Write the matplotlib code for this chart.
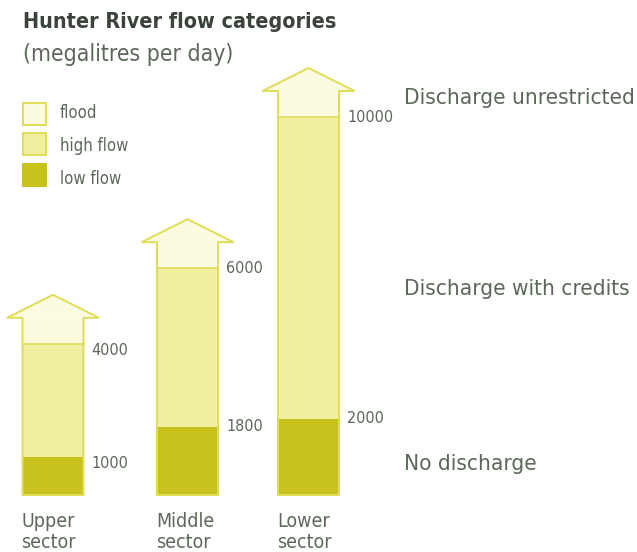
import matplotlib
matplotlib.use("Agg")
import os
import matplotlib.pyplot as plt
from matplotlib.patches import Rectangle, Polygon
from matplotlib import font_manager
from matplotlib.font_manager import FontProperties

sectors = ["Upper\nsector", "Middle\nsector", "Lower\nsector"]
low_flow = [1000, 1800, 2000]
high_flow = [4000, 6000, 10000]
low_labels = ["1000", "1800", "2000"]
high_labels = ["4000", "6000", "10000"]
legend_labels = ["flood", "high flow", "low flow"]
zone_labels = ["Discharge unrestricted", "Discharge with credits", "No discharge"]
zone_levels = [10500, 5450, 820]

files = [f.fname for f in font_manager.fontManager.ttflist]
def pick(cands):
    for c in cands:
        for f in files:
            if os.path.basename(f).lower() == c.lower():
                return f
    return None
reg_file = pick(["LiberationSansNarrow-Regular.ttf", "DejaVuSansCondensed.ttf"])
bold_file = pick(["LiberationSansNarrow-Bold.ttf", "DejaVuSansCondensed-Bold.ttf"])
def fp(size, bold=False):
    f = bold_file if bold else reg_file
    if f:
        return FontProperties(fname=f, size=size)
    return FontProperties(family="DejaVu Sans", size=size,
                          weight="bold" if bold else "normal", stretch="condensed")

C_LOW = "#c8c31c"
C_HIGH = "#f0efa0"
C_FLOOD = "#fcfbe0"
C_EDGE = "#e0dd58"
TXT = "#5b6a58"
TITLE = "#3a443a"

W, H = 637, 552
fig = plt.figure(figsize=(W / 100, H / 100), dpi=100)
ax = fig.add_axes([0, 0, 1, 1])
px = 1000 / 37.8  # value units per pixel
base_px = 495
ax.set_xlim(0, W)
ax.set_ylim(-(H - base_px) * px, base_px * px)
ax.axis("off")

centers = [53, 187.5, 308.5]
bw = 61
aw = 92
flood_ext = 26 * px
head_h = 23 * px
lab_off_high = [-7 * px, 0, 0]
lab_off_low = [-6 * px, 0, 1 * px]

for i, c in enumerate(centers):
    x0 = c - bw / 2
    ax.add_patch(Rectangle((x0, 0), bw, low_flow[i], fc=C_LOW, ec="none", zorder=2))
    ax.add_patch(Rectangle((x0, low_flow[i]), bw, high_flow[i] - low_flow[i],
                           fc=C_HIGH, ec="none", zorder=2))
    top = high_flow[i] + flood_ext
    ax.add_patch(Rectangle((x0, high_flow[i]), bw, flood_ext, fc=C_FLOOD, ec="none", zorder=2))
    pts = [(x0, 0), (x0 + bw, 0), (x0 + bw, top), (c + aw / 2, top), (c, top + head_h),
           (c - aw / 2, top), (x0, top)]
    ax.add_patch(Polygon(pts, closed=True, fc="none", ec=C_EDGE, lw=1.4, zorder=3))
    head = [(c + aw / 2, top), (c, top + head_h), (c - aw / 2, top)]
    ax.add_patch(Polygon(head, closed=True, fc=C_FLOOD, ec="none", zorder=2))
    ax.plot([x0, x0 + bw], [high_flow[i]] * 2, color=C_EDGE, lw=1.2, zorder=3)
    ax.text(x0 + bw + 8, low_flow[i] + lab_off_low[i], low_labels[i], fontproperties=fp(11.5),
            color=TXT, va="center", ha="left")
    ax.text(x0 + bw + 8, high_flow[i] + lab_off_high[i], high_labels[i], fontproperties=fp(11.5),
            color=TXT, va="center", ha="left")
    ax.text(x0 - 1, -(512 - base_px) * px, sectors[i], fontproperties=fp(14),
            color=TXT, va="top", ha="left", linespacing=1.15)

for lab, lev in zip(zone_labels, zone_levels):
    ax.text(404, lev, lab, fontproperties=fp(16.2), color=TXT, va="center", ha="left")

fig.text(23 / W, 1 - 22 / H, "Hunter River flow categories", fontproperties=fp(15.4, True),
         color=TITLE, va="center", ha="left")
fig.text(23 / W, 1 - 54 / H, "(megalitres per day)", fontproperties=fp(16.5),
         color=TXT, va="center", ha="left")

leg_cols = [C_FLOOD, C_HIGH, C_LOW]
leg_y = [114, 144, 174.5]
leg_text_y = [113, 146, 179]
for col, lab, yy, ty in zip(leg_cols, legend_labels, leg_y, leg_text_y):
    fig.patches.append(Rectangle((23 / W, 1 - (yy + 11) / H), 23 / W, 22 / H, fc=col,
                                 ec=C_EDGE if col != C_LOW else C_LOW, lw=1.5,
                                 transform=fig.transFigure, figure=fig))
    fig.text(60 / W, 1 - ty / H, lab, fontproperties=fp(12), color=TXT,
             va="center", ha="left")

fig.savefig("out.png", dpi=100, facecolor="white")
